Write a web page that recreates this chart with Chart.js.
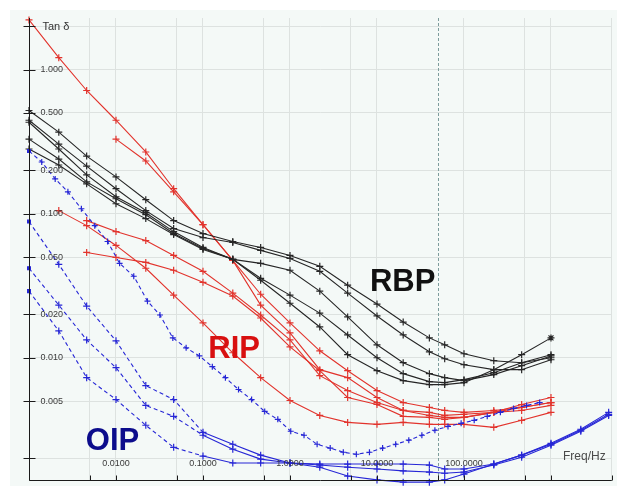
<!DOCTYPE html>
<html>
<head>
<meta charset="utf-8">
<script src="https://cdn.jsdelivr.net/npm/chart.js@4.4.0/dist/chart.umd.min.js"></script>
<style>
  html, body { margin: 0; padding: 0; background: #ffffff; }
  #wrap { width: 617px; height: 486px; }
</style>
</head>
<body>
<div id="wrap"><canvas id="chart" width="617" height="486"></canvas></div>
<script>
// frequencies (Hz)
const freqMain = [0.001, 0.0022, 0.0046, 0.01, 0.022, 0.046, 0.1, 0.22, 0.46, 1, 2.2, 4.6, 10, 20, 40, 60, 100, 220, 460, 1000, 2200, 4600];
const freqDense = [0.001, 0.0014, 0.002, 0.0028, 0.004, 0.0057, 0.008, 0.011, 0.016, 0.023, 0.032, 0.045, 0.064, 0.091, 0.128, 0.181,
  0.256, 0.362, 0.512, 0.724, 1.02, 1.45, 2.05, 2.9, 4.1, 5.79, 8.19, 11.6, 16.4, 23.2, 32.8, 46.3, 65.5, 92.7, 131, 185, 262, 371, 524, 741];

// RBP (black)
const rbp1 = [0.52, 0.368, 0.251, 0.18, 0.125, 0.0895, 0.0728, 0.0641, 0.0583, 0.0513, 0.0431, 0.0319, 0.0236, 0.0177, 0.01374, 0.0123, 0.01066, 0.00954, 0.00924, 0.01];
const rbp2 = [0.445, 0.304, 0.214, 0.149, 0.105, 0.0788, 0.0683, 0.0631, 0.0556, 0.0489, 0.0398, 0.0281, 0.0195, 0.0144, 0.011, 0.00984, 0.00895, 0.00827, 0.00827, 0.00969];
const rbp3 = [0.431, 0.281, 0.186, 0.131, 0.1016, 0.0751, 0.0583, 0.0482, 0.0452, 0.0405, 0.029, 0.0192, 0.0123, 0.00924, 0.00776, 0.00728, 0.00694, 0.00764, 0.00881, 0.0103];
const rbp4 = [0.329, 0.2394, 0.1662, 0.1269, 0.0984, 0.0728, 0.0574, 0.0482, 0.0356, 0.0272, 0.0204, 0.0144, 0.01, 0.00776, 0.00683, 0.00672, 0.00705, 0.00788, 0.00924, 0.0105];
const rbp5 = [0.281, 0.2177, 0.161, 0.1172, 0.0924, 0.0716, 0.0565, 0.0482, 0.0345, 0.0239, 0.01636, 0.0105, 0.00813, 0.00694, 0.00651, 0.00651, 0.00672, 0.00827, 0.0105, 0.01374];

// RIP (red)
const rip1 = [2.21, 1.21, 0.716, 0.445, 0.268, 0.149, 0.0839, 0.0474, 0.0276, 0.01744, 0.01118, 0.00813, 0.00592, 0.00489, 0.00452, 0.00431, 0.00418, 0.00431, 0.00452, 0.00489];
const rip2 = [null, null, null, 0.329, 0.232, 0.1418, 0.0839, 0.0474, 0.0232, 0.01487, 0.00827, 0.00728, 0.0053, 0.00431, 0.00398, 0.00386, 0.00386, 0.00418, 0.00452, 0.00489];
const rip3 = [null, 0.105, 0.0826, 0.0602, 0.0418, 0.0272, 0.01744, 0.01083, 0.00728, 0.00505, 0.00398, 0.00356, 0.00345, 0.00356, 0.00345, 0.00345, 0.00345, 0.00329, 0.00368, 0.00418];
const rip4 = [null, null, 0.0895, 0.0751, 0.0651, 0.0513, 0.0398, 0.0281, 0.0198, 0.0133, 0.00751, 0.00592, 0.00489, 0.00431, 0.00418, 0.00398, 0.00405, 0.00418, 0.00431, 0.00467];
const rip5 = [null, null, 0.0538, 0.0497, 0.0459, 0.0405, 0.0334, 0.0268, 0.01888, 0.0119, 0.00813, 0.0053, 0.00474, 0.00392, 0.00386, 0.00374, 0.00386, 0.00418, 0.00474, 0.0053];

// OIP (blue)
const oip1 = [0.0881, 0.0445, 0.02284, 0.0131, 0.00641, 0.00513, 0.00304, 0.00251, 0.00211, 0.00186, 0.00183, 0.00183, 0.00183, 0.00183, 0.0018, 0.00169, 0.00169, 0.00183, 0.00211, 0.00251, 0.00314, 0.00405];
const oip2 = [0.0418, 0.0232, 0.0133, 0.00853, 0.00467, 0.00392, 0.0029, 0.00232, 0.00198, 0.00186, 0.0018, 0.00174, 0.00169, 0.00164, 0.00161, 0.00158, 0.00161, 0.0018, 0.00204, 0.00247, 0.00309, 0.00398];
const oip3 = [0.029, 0.01535, 0.00728, 0.00513, 0.0034, 0.00239, 0.00208, 0.00186, 0.00186, 0.00186, 0.00174, 0.00151, 0.00142, 0.00137, 0.00137, 0.00142, 0.00156, 0.00183, 0.00211, 0.00255, 0.00319, 0.00418];
const oipDense = [0.272, 0.2284, 0.1743, 0.1418, 0.1082, 0.0826, 0.0641, 0.0452, 0.0368, 0.0247, 0.0198, 0.01374, 0.01172, 0.0103, 0.00867, 0.00728,
  0.00602, 0.00513, 0.00424, 0.00374, 0.00309, 0.0029, 0.00251, 0.00236, 0.00221, 0.00214, 0.00221, 0.00236, 0.00251, 0.00268,
  0.0029, 0.00314, 0.00334, 0.00351, 0.00368, 0.00392, 0.00418, 0.00445, 0.00467, 0.00489];

// axis ticks
const xTicks = [0.001, 0.005, 0.01, 0.05, 0.1, 0.5, 1, 5, 10, 50, 100, 500, 1000, 5000];
const xLabels = [[0.01, "0.0100"], [0.1, "0.1000"], [1, "1.0000"], [10, "10.0000"], [100, "100.0000"]];
const yTicks = [0.002, 0.005, 0.01, 0.02, 0.05, 0.1, 0.2, 0.5, 1, 2];
const yLabels = [[1, "1.000"], [0.5, "0.500"], [0.2, "0.200"], [0.1, "0.100"], [0.05, "0.050"], [0.02, "0.020"], [0.01, "0.010"], [0.005, "0.005"]];
const mainsFreq = 50;
const groupLabels = [["RBP", 8.3, 0.029, "#111111"], ["RIP", 0.115, 0.01, "#d81010"], ["OIP", 0.0045, 0.00228, "#0c0c8c"]];

const pts = (xs, ys) => ys.map((v, i) => ({ x: xs[i], y: v }));

const BLACK = "#262626", RED = "#e2332c", BLUE = "#2626d6";

function series(xs, ys, color, extra) {
  return Object.assign({
    data: pts(xs, ys),
    borderColor: color,
    backgroundColor: color,
    borderWidth: 1.1,
    pointStyle: "cross",
    pointRadius: 3.5,
    pointBorderWidth: 1.2,
    pointBorderColor: color,
    tension: 0,
    spanGaps: false,
    clip: 8
  }, extra || {});
}

// OIP: dashed below 0.1 Hz, solid above; first reading drawn as a small square
const oipSegment = {
  borderDash: ctx => (ctx.p1.parsed.x <= 0.1 ? [4, 3] : undefined)
};
const firstSquare = ctx => (ctx.dataIndex === 0 ? "rect" : "cross");
const firstRadius = ctx => (ctx.dataIndex === 0 ? 2 : 3.5);

const datasets = [
  series(freqMain, oip1, BLUE, { segment: oipSegment, pointStyle: firstSquare, pointRadius: firstRadius }),
  series(freqMain, oip2, BLUE, { segment: oipSegment, pointStyle: firstSquare, pointRadius: firstRadius }),
  series(freqMain, oip3, BLUE, { segment: oipSegment, pointStyle: firstSquare, pointRadius: firstRadius }),
  series(freqDense, oipDense, BLUE, { borderDash: [4, 3], pointStyle: firstSquare, pointRadius: ctx => (ctx.dataIndex === 0 ? 2 : 3) }),
  series(freqMain, rbp1, BLACK),
  series(freqMain, rbp2, BLACK),
  series(freqMain, rbp3, BLACK),
  series(freqMain, rbp4, BLACK),
  series(freqMain, rbp5, BLACK, { pointStyle: ctx => (ctx.dataIndex === rbp5.length - 1 ? "star" : "cross") }),
  series(freqMain, rip1, RED),
  series(freqMain, rip2, RED),
  series(freqMain, rip3, RED),
  series(freqMain, rip4, RED),
  series(freqMain, rip5, RED)
];

const decor = {
  id: "decor",
  beforeDraw(chart) {
    const c = chart.ctx;
    c.save();
    c.fillStyle = "#ffffff";
    c.fillRect(0, 0, chart.width, chart.height);
    c.fillStyle = "#f4f9f7";
    c.fillRect(10, 10, chart.width - 10, chart.height - 10);
    c.restore();
  },
  beforeDatasetsDraw(chart) {
    const c = chart.ctx, a = chart.chartArea, xs = chart.scales.x;
    const px = Math.round(xs.getPixelForValue(mainsFreq)) + 0.5;
    c.save();
    c.strokeStyle = "#7d9c9c";
    c.lineWidth = 1;
    c.setLineDash([3, 2]);
    c.beginPath();
    c.moveTo(px, a.top);
    c.lineTo(px, a.bottom);
    c.stroke();
    c.restore();
  },
  afterDatasetsDraw(chart) {
    const c = chart.ctx, a = chart.chartArea, xs = chart.scales.x, ys = chart.scales.y;
    c.save();
    c.strokeStyle = "#1a1a1a";
    c.lineWidth = 1;
    // axes
    const ax = Math.round(a.left) + 0.5, ay = Math.round(a.bottom) - 0.5;
    c.beginPath();
    c.moveTo(ax, a.top);
    c.lineTo(ax, ay);
    c.lineTo(a.right, ay);
    c.stroke();
    // y tick marks
    yTicks.forEach(v => {
      const y = Math.round(ys.getPixelForValue(v)) + 0.5;
      c.beginPath();
      c.moveTo(ax - 6, y);
      c.lineTo(ax + 6, y);
      c.stroke();
    });
    // x tick marks
    xTicks.forEach(v => {
      const x = Math.round(xs.getPixelForValue(v)) + 0.5;
      c.beginPath();
      c.moveTo(x, ay);
      c.lineTo(x, ay - 5);
      c.stroke();
    });
    // tick labels
    c.fillStyle = "#3a3a3a";
    c.font = '9px "Liberation Sans", Arial, sans-serif';
    c.textAlign = "left";
    c.textBaseline = "middle";
    yLabels.forEach(([v, t]) => c.fillText(t, ax + 11, ys.getPixelForValue(v)));
    c.textAlign = "center";
    const labY = ys.getPixelForValue(0.002) + 5;
    xLabels.forEach(([v, t]) => c.fillText(t, xs.getPixelForValue(v), labY));
    // axis titles
    c.fillStyle = "#333333";
    c.font = '11px "Liberation Sans", Arial, sans-serif';
    c.textAlign = "left";
    c.fillText("Tan δ", ax + 13, ys.getPixelForValue(2) + 1);
    c.fillStyle = "#4a4a4a";
    c.font = '12px "Liberation Sans", Arial, sans-serif';
    c.fillText("Freq/Hz", 563, ys.getPixelForValue(0.002) - 2);
    // group labels
    c.font = 'bold 31px "Liberation Sans", Arial, sans-serif';
    c.textBaseline = "alphabetic";
    groupLabels.forEach(([t, f, v, col]) => {
      c.fillStyle = col;
      c.fillText(t, xs.getPixelForValue(f), ys.getPixelForValue(v));
    });
    c.restore();
  }
};

new Chart(document.getElementById("chart"), {
  type: "line",
  data: { datasets },
  options: {
    responsive: false,
    animation: false,
    devicePixelRatio: 1,
    layout: { padding: { left: 29, top: 18, right: 0, bottom: 2 } },
    plugins: { legend: { display: false }, tooltip: { enabled: false } },
    scales: {
      x: {
        type: "logarithmic",
        min: 0.001,
        max: 5000,
        afterBuildTicks: s => { s.ticks = xTicks.map(v => ({ value: v })); },
        afterFit: s => { s.height = 0; },
        ticks: { display: false },
        border: { display: false },
        grid: {
          drawTicks: false,
          lineWidth: 1,
          color: ctx => (ctx.tick && ctx.tick.value === mainsFreq ? "rgba(0,0,0,0)" : "#dde2e0")
        }
      },
      y: {
        type: "logarithmic",
        min: 0.0014,
        max: 2.28,
        afterBuildTicks: s => { s.ticks = yTicks.map(v => ({ value: v })); },
        afterFit: s => { s.width = 0; },
        ticks: { display: false },
        border: { display: false },
        grid: { drawTicks: false, lineWidth: 1, color: "#dde2e0" }
      }
    }
  },
  plugins: [decor]
});
</script>
</body>
</html>
